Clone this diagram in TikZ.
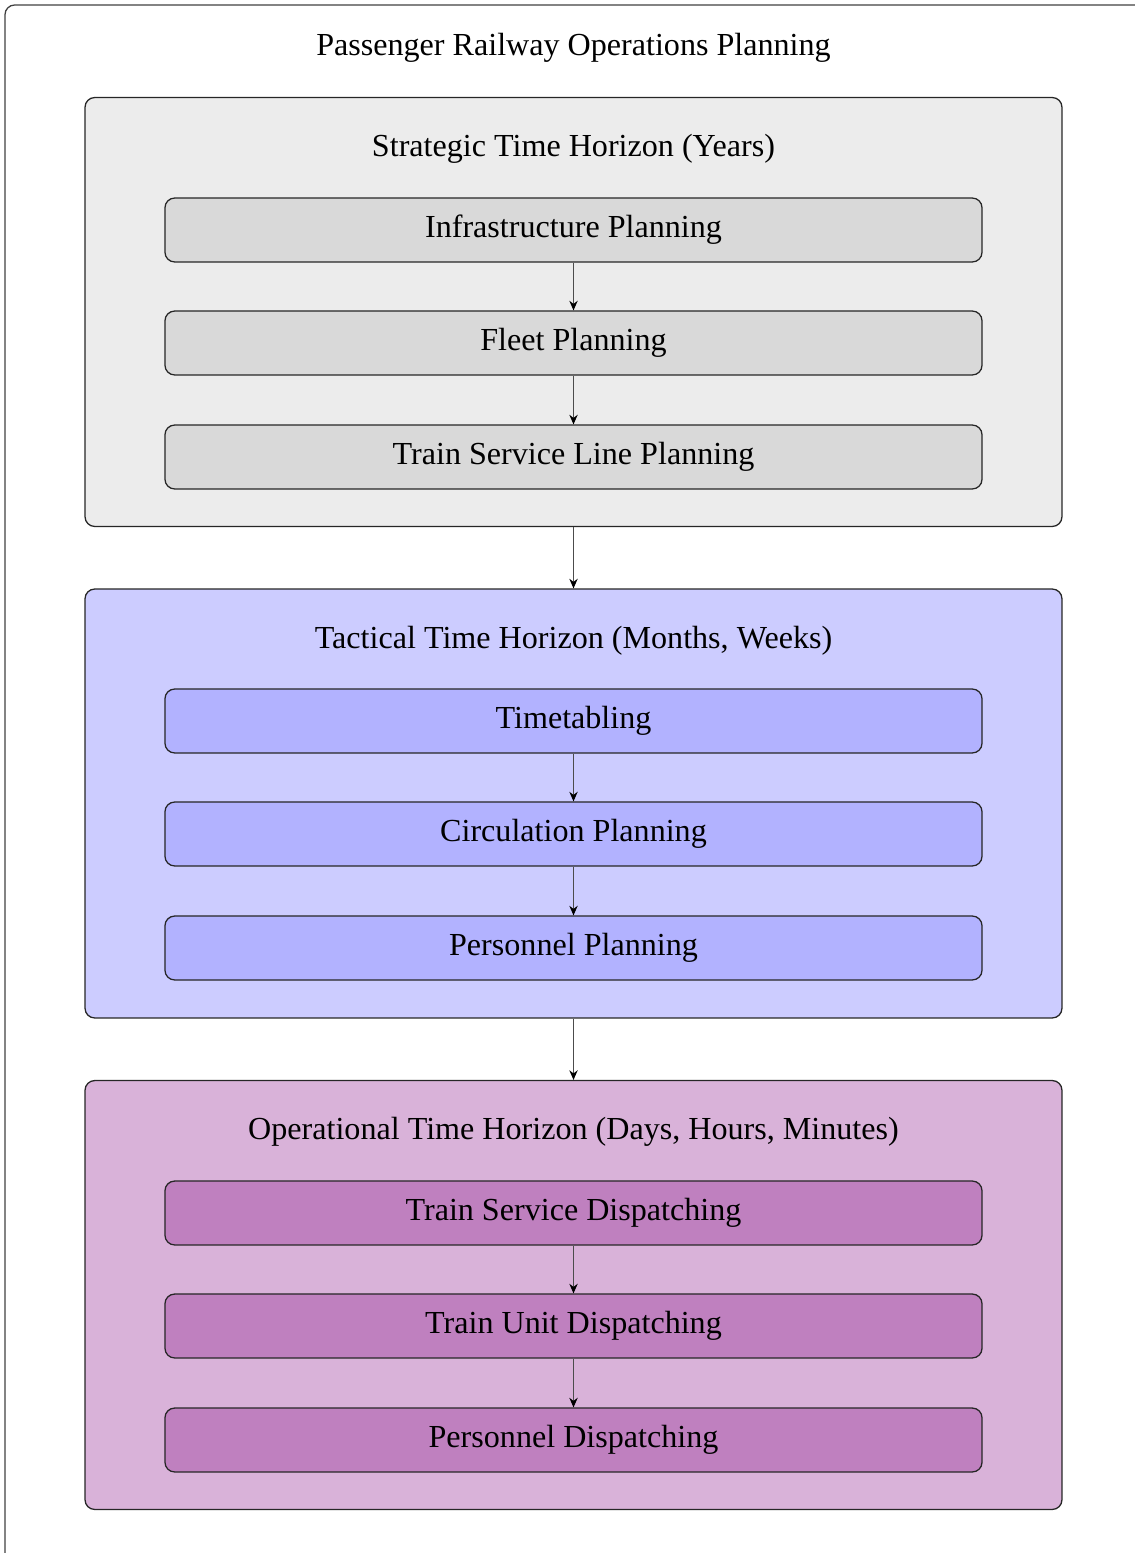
\documentclass[tikz,border=0pt]{standalone}
\usepackage{fontspec}
\setmainfont{Liberation Serif}
\usetikzlibrary{arrows.meta}
\begin{document}
\begin{tikzpicture}[x=0.3115pt,y=-0.3115pt,
  font=\fontsize{10}{12}\selectfont,
  phase/.style={draw=black!85, line width=0.4pt, rounded corners=3pt, minimum width=304.3pt, minimum height=133.6pt, inner sep=0pt},
  task/.style={draw=black!85, line width=0.4pt, rounded corners=3pt, minimum width=254.5pt, minimum height=19.9pt, inner sep=0pt},
  flow/.style={-{Stealth[length=3pt,width=2.6pt,black]}, line width=0.4pt, draw=black!70},
  lbl/.style={inner sep=0pt}]
\useasboundingbox (0,0) rectangle (1135,1553);
\draw[draw=black!75, line width=0.4pt, rounded corners=3pt] (5,5) rectangle (1150,1570);
\node[lbl] (title) at (573.5,48) {Passenger Railway Operations Planning};

% Strategic
\node[phase, fill=gray!15] (strat) at (573.5,312) {};
\node[lbl] (stratT) at (573.5,149) {Strategic Time Horizon (Years)};
\node[task, fill=gray!30] (s1) at (573.5,230) {Infrastructure Planning};
\node[task, fill=gray!30] (s2) at (573.5,343) {Fleet Planning};
\node[task, fill=gray!30] (s3) at (573.5,457) {Train Service Line Planning};

% Tactical
\node[phase, fill=blue!20] (tact) at (573.5,803.5) {};
\node[lbl] (tactT) at (573.5,641) {Tactical Time Horizon (Months, Weeks)};
\node[task, fill=blue!30] (t1) at (573.5,721) {Timetabling};
\node[task, fill=blue!30] (t2) at (573.5,834) {Circulation Planning};
\node[task, fill=blue!30] (t3) at (573.5,948) {Personnel Planning};

% Operational
\node[phase, fill=violet!30] (oper) at (573.5,1295) {};
\node[lbl] (operT) at (573.5,1132) {Operational Time Horizon (Days, Hours, Minutes)};
\node[task, fill=violet!50] (o1) at (573.5,1213) {Train Service Dispatching};
\node[task, fill=violet!50] (o2) at (573.5,1326) {Train Unit Dispatching};
\node[task, fill=violet!50] (o3) at (573.5,1440) {Personnel Dispatching};

\draw[flow] (s1) -- (s2);
\draw[flow] (s2) -- (s3);
\draw[flow] (strat) -- (tact);
\draw[flow] (t1) -- (t2);
\draw[flow] (t2) -- (t3);
\draw[flow] (tact) -- (oper);
\draw[flow] (o1) -- (o2);
\draw[flow] (o2) -- (o3);
\end{tikzpicture}
\end{document}
